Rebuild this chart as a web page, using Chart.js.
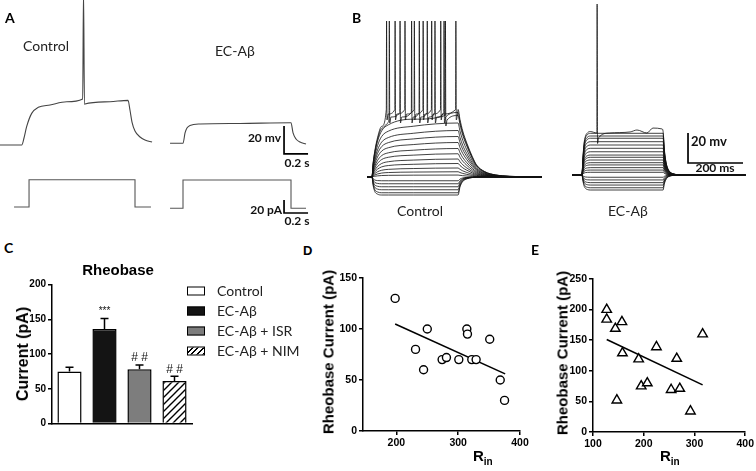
<!DOCTYPE html>
<html lang="en">
<head>
<meta charset="utf-8">
<title>Rheobase</title>
<script src="https://cdn.jsdelivr.net/npm/chart.js"></script>
<style>
  body { margin: 0; background: #fff; }
  #fig { position: relative; width: 756px; height: 471px; overflow: hidden; font-family: Lato, 'Open Sans', sans-serif; color: #222; }
  #fig canvas { position: absolute; }
  .t { position: absolute; white-space: nowrap; line-height: 1; transform: translateY(-50%); }
  .c { transform: translate(-50%, -50%); }
  .r { transform: translate(-100%, -50%); }
  .lab { font-weight: bold; font-size: 14px; color: #000; }
  .big { font-size: 14px; }
  .bar { font-weight: bold; font-size: 12px; color: #111; }
  .v { font: bold 15px 'Liberation Sans', Arial, sans-serif; color: #000; transform: translate(-50%, -50%) rotate(-90deg); }
  .rin { position: absolute; font: bold 15px 'Liberation Sans', Arial, sans-serif; line-height: 1; color: #000; }
  .rin sub { font-size: 10px; vertical-align: baseline; position: relative; top: 4px; }
  .sw { position: absolute; box-sizing: border-box; width: 18px; height: 9px; border: 1.5px solid #000; transform: translateY(-50%); }
</style>
</head>
<body>
<div id="fig">
  <canvas id="chartA" width="330" height="230" style="left:0;top:0"></canvas>
  <canvas id="chartB1" width="200" height="230" style="left:360px;top:0"></canvas>
  <canvas id="chartB2" width="196" height="230" style="left:560px;top:0"></canvas>
  <canvas id="chartC" width="200" height="180" style="left:0;top:260px"></canvas>
  <canvas id="chartD" width="240" height="200" style="left:300px;top:260px"></canvas>
  <canvas id="chartE" width="226" height="200" style="left:530px;top:260px"></canvas>

  <div class="t lab" style="left:5px;top:18px">A</div>
  <div class="t lab" style="left:352px;top:18px">B</div>
  <div class="t lab" style="left:4px;top:248px">C</div>
  <div class="t lab" style="left:303px;top:250px;font-family:'Liberation Sans';font-size:13px">D</div>
  <div class="t lab" style="left:531px;top:250px">E</div>

  <div class="t big" style="left:23px;top:46px">Control</div>
  <div class="t big" style="left:215px;top:51px">EC-Aβ</div>
  <div class="t bar r" style="left:281px;top:138px">20 mv</div>
  <div class="t bar c" style="left:297px;top:163px">0.2 s</div>
  <div class="t bar r" style="left:282px;top:210px">20 pA</div>
  <div class="t bar c" style="left:297px;top:221px">0.2 s</div>

  <div class="t bar" style="left:691px;top:141px;font-size:13px">20 mv</div>
  <div class="t bar c" style="left:715px;top:168px">200 ms</div>
  <div class="t big" style="left:397px;top:211px">Control</div>
  <div class="t big" style="left:608px;top:211px">EC-Aβ</div>

  <div class="t c" style="left:118px;top:269px;font:bold 15px 'Liberation Sans';color:#000">Rheobase</div>
  <div class="t v" style="left:23px;top:354px;font-size:16px">Current (pA)</div>
  <div id="legendC"></div>

  <div class="t v" style="left:328px;top:352px">Rheobase Current (pA)</div>
  <div class="rin" style="left:473px;top:448px">R<sub>in</sub></div>
  <div class="t v" style="left:562px;top:353px">Rheobase Current (pA)</div>
  <div class="rin" style="left:660px;top:448px">R<sub>in</sub></div>
</div>

<script>
// ---- A: rheobase step, time (s) and potential above rest (mV) / injected current (pA)
const aCtrlT = [0, 0.181, 0.2, 0.222, 0.264, 0.319, 0.417, 0.556, 0.689, 0.696, 0.704, 0.708, 0.917, 1.067, 1.083, 1.1, 1.125, 1.167, 1.208, 1.267];
const aCtrlV = [0, 0, 5, 13.1, 22.6, 26.9, 28.6, 30.9, 32.9, 110, 29, 29.3, 30.9, 31.9, 25, 16.4, 10, 5.7, 3.6, 2.1];
const aEcT = [1.417, 1.525, 1.542, 1.558, 1.583, 1.667, 2.0, 2.425, 2.442, 2.467, 2.5, 2.55];
const aEcV = [1.2, 1.2, 8.6, 12.1, 14, 15, 15.4, 15.9, 8.6, 4.3, 2.1, 0.7];
const aCtrlIT = [0.117, 0.242, 0.242, 1.125, 1.125, 1.258];
const aCtrlI = [0, 0, 42, 42, 0, 0];
const aEcIT = [1.417, 1.525, 1.525, 2.425, 2.425, 2.55];
const aEcI = [-2, -2, 41.5, 41.5, -2, -2];

// ---- B: current step families, time (ms from step onset), mV above rest
const bCtrlTime = [-18, 0, 4, 10, 20, 35, 60, 150, 313, 320, 330, 345, 365, 380, 410, 450, 500, 618];
const bDepShape = [0, 0, 0.2, 0.38, 0.58, 0.75, 0.85, 0.94, 1, 0.85, 0.68, 0.5, 0.3, 0.18, 0.08, 0.03, 0.01, 0];
const bHypShape = [0, 0, 0.45, 0.8, 0.95, 1, 1, 1, 1, 0.55, 0.25, 0.1, 0.03, 0.01, 0, 0, 0, 0];
const bCtrlLevels = [45, 43, 41, 36, 31, 27, 23, 19, 15.5, 12, 9, 6, 3.5, 1.3, -2.5, -4.5, -6.5, -8.5, -10.5, -12];
const bCtrlSpikes = [[53, 84, 120, 154, 186, 217, 250, 305], [63, 102, 144, 172, 201, 229, 262], [267]];
const bEcTime = [-36, 0, 3, 7, 12, 20, 30, 295, 299, 304, 310, 320, 335, 360, 594];
const bEcShape = [0, 0, 0.35, 0.7, 0.88, 0.97, 1, 1, 0.62, 0.35, 0.18, 0.07, 0.02, 0, 0];
const bEcLevels = [29, 27.8, 26, 24.5, 22.2, 20, 17.8, 15.5, 13.3, 11.8, 10, 8.2, 6.7, 4.9, 3.3, 1.8, -1.5, -3.3, -5.1, -6.7, -8.5, -10];
const bEcSpike = [55];
const bEcTopT = [100, 175, 200, 236, 258, 291];
const bEcTopV = [28, 28.7, 30, 28, 31.3, 30.7];

// ---- C: rheobase current
const cLabels = ['Control', 'EC-Aβ', 'EC-Aβ + ISR', 'EC-Aβ + NIM'];
const cMean = [75, 136, 78, 61];
const cSem = [6, 15, 6, 7];
const cSig = ['', '***', '# #', '# #'];
const cTicks = [0, 50, 100, 150, 200];

// ---- D, E: rheobase vs input resistance
const dRin = [198, 231, 244, 250, 274, 281, 301, 314, 315, 322, 329, 351, 368, 375];
const dCur = [130, 80, 60, 100, 70, 72, 70, 100, 95, 70, 70, 90, 50, 30];
const dFitX = [198, 376];
const dFitY = [105, 56];
const dTicksX = [200, 300, 400];
const dTicksY = [0, 50, 100, 150];
const eRin = [127, 127, 144, 157, 158, 147, 190, 195, 207, 225, 254, 265, 271, 292, 316];
const eCur = [200, 184, 169, 180, 129, 52, 119, 75, 80, 139, 69, 120, 71, 34, 160];
const eFitX = [127, 316];
const eFitY = [151, 77];
const eTicksX = [100, 200, 300, 400];
const eTicksY = [0, 50, 100, 150, 200, 250];

// scale bars (anchor corner + lengths)
const aBar = {t: 2.367, v: -6.4, i: -9.2, dt: 0.2, dv: 20, di: 20};
const bBar = {t: 385.5, v: 8, dt: 200, dv: 20};

Chart.defaults.font.family = "'Liberation Sans', Arial, sans-serif";
Chart.defaults.color = '#000';
Chart.defaults.animation = false;
Chart.defaults.plugins.legend.display = false;
Chart.defaults.plugins.tooltip.enabled = false;

function xy(xs, ys) { return xs.map((x, i) => ({x: x, y: ys[i]})); }
function fixWidth(w) { return axis => { axis.width = w; }; }
function fixHeight(h) { return axis => { axis.height = h; }; }
function setTicks(list) { return axis => { axis.ticks = list.map(v => ({value: v})); }; }

function trace(times, shape, level, extra) {
  let pts = times.map((t, i) => ({x: t, y: level * shape[i]}));
  if (extra) {
    const a = Math.min(...extra.map(p => p.x)), b = Math.max(...extra.map(p => p.x));
    pts = pts.filter(p => p.x < a || p.x > b).concat(extra).sort((p, q) => p.x - q.x);
  }
  return pts;
}
function spikePoints(times, level, peak) {
  const out = [];
  times.forEach(t => {
    out.push({x: t - 1, y: level}, {x: t, y: peak}, {x: t + 1.5, y: level - 7}, {x: t + 6, y: level - 3});
  });
  return out;
}
function lineSet(data, color, width, extra) {
  return Object.assign({data: data, borderColor: color, borderWidth: width, pointRadius: 0, fill: false, tension: 0}, extra || {});
}
function barSet(b, kV, kI) {
  const sets = [lineSet([{x: b.t, y: b[kV] + b['d' + kV]}, {x: b.t, y: b[kV]}, {x: b.t + b.dt, y: b[kV]}], '#000', 1.7)];
  if (kI) sets.push(lineSet([{x: b.t, y: b[kI] + b['d' + kI]}, {x: b.t, y: b[kI]}, {x: b.t + b.dt, y: b[kI]}], '#000', 1.7, {yAxisID: 'y2'}));
  return sets;
}

// ---- A
new Chart('chartA', {
  type: 'line',
  data: {datasets: [
    lineSet(xy(aCtrlT, aCtrlV), '#444', 1.1, {cubicInterpolationMode: 'monotone'}),
    lineSet(xy(aEcT, aEcV), '#444', 1.1, {cubicInterpolationMode: 'monotone'}),
    lineSet(xy(aCtrlIT, aCtrlI), '#555', 1.1, {yAxisID: 'y2'}),
    lineSet(xy(aEcIT, aEcI), '#555', 1.1, {yAxisID: 'y2'})
  ].concat(barSet(aBar, 'v', 'i'))},
  options: {
    responsive: false,
    scales: {
      x: {type: 'linear', display: false, min: 0, max: 330 / 120},
      y: {display: false, min: -85 / 1.4, max: 145 / 1.4},
      y2: {display: false, min: -23 / 0.65, max: 207 / 0.65}
    }
  }
});

// ---- B
const bCtrlSets = bCtrlLevels.map((lv, i) => {
  const extra = bCtrlSpikes[i] ? spikePoints(bCtrlSpikes[i], lv, 104) : null;
  return lineSet(trace(bCtrlTime, lv > 0 ? bDepShape : bHypShape, lv, extra), '#111', 0.8, {cubicInterpolationMode: 'monotone'});
});
const ecTopExtra = spikePoints(bEcSpike, 28, 114).concat(xy(bEcTopT, bEcTopV));
const bEcSets = bEcLevels.map((lv, i) =>
  lineSet(trace(bEcTime, bEcShape, lv, i === 0 ? ecTopExtra : null), '#111', 0.8, {cubicInterpolationMode: 'monotone'}));

new Chart('chartB1', {
  type: 'line',
  data: {datasets: bCtrlSets},
  options: {responsive: false, scales: {
    x: {type: 'linear', display: false, min: -12 / 0.275, max: 188 / 0.275},
    y: {display: false, min: -53 / 1.5, max: 177 / 1.5}
  }}
});
new Chart('chartB2', {
  type: 'line',
  data: {datasets: bEcSets.concat(barSet(bBar, 'v'))},
  options: {responsive: false, scales: {
    x: {type: 'linear', display: false, min: -22 / 0.275, max: 174 / 0.275},
    y: {display: false, min: -55 / 1.5, max: 175 / 1.5}
  }}
});

// ---- C
function makeHatch(ctx) {
  const c = document.createElement('canvas');
  c.width = 7; c.height = 7;
  const g = c.getContext('2d');
  g.fillStyle = '#fff'; g.fillRect(0, 0, 7, 7);
  g.strokeStyle = '#000'; g.lineWidth = 1.4;
  g.beginPath();
  g.moveTo(-1, 8); g.lineTo(8, -1);
  g.moveTo(-4, 4); g.lineTo(4, -4);
  g.moveTo(3, 11); g.lineTo(11, 3);
  g.stroke();
  return ctx.createPattern(c, 'repeat');
}
const cCanvas = document.getElementById('chartC');
const hatch = makeHatch(cCanvas.getContext('2d'));
const cFills = ['#fff', '#141414', '#7d7d7d', hatch];

const errorBars = {
  id: 'errorBars',
  afterDatasetsDraw(chart) {
    const ctx = chart.ctx, y = chart.scales.y;
    ctx.save();
    ctx.strokeStyle = '#000';
    ctx.fillStyle = '#111';
    ctx.lineWidth = 1.5;
    chart.getDatasetMeta(0).data.forEach((bar, i) => {
      const top = y.getPixelForValue(cMean[i] + cSem[i]);
      ctx.beginPath();
      ctx.moveTo(bar.x, bar.y); ctx.lineTo(bar.x, top);
      ctx.moveTo(bar.x - 4, top); ctx.lineTo(bar.x + 4, top);
      ctx.stroke();
      if (cSig[i]) {
        ctx.font = (cSig[i] === '***' ? '10px' : '12px') + " 'Liberation Sans'";
        ctx.textAlign = 'center';
        ctx.textBaseline = 'middle';
        ctx.fillText(cSig[i], bar.x, top - 7);
      }
    });
    ctx.restore();
  }
};

const axisLine = {color: '#000', width: 1.5};
const tickMarks = {drawOnChartArea: false, color: '#000', lineWidth: 1.5, tickLength: 4};

new Chart(cCanvas, {
  type: 'bar',
  data: {labels: cLabels, datasets: [{
    data: cMean, backgroundColor: cFills, borderColor: '#000', borderWidth: 1.5,
    barPercentage: 0.69, categoryPercentage: 1
  }]},
  options: {
    responsive: false,
    layout: {padding: {top: 24.5, right: 8, left: 0, bottom: 0}},
    scales: {
      x: {grid: {display: false}, ticks: {display: false}, border: axisLine, afterFit: fixHeight(16.5)},
      y: {min: 0, max: 200, afterBuildTicks: setTicks(cTicks), afterFit: fixWidth(52),
          border: axisLine, grid: tickMarks,
          ticks: {font: {size: 10, weight: 'bold'}, color: '#000', padding: 2}}
    }
  },
  plugins: [errorBars]
});

const legend = document.getElementById('legendC');
cLabels.forEach((name, i) => {
  const y = 291 + 20 * i;
  const sw = document.createElement('div');
  sw.className = 'sw';
  sw.style.left = '187px';
  sw.style.top = y + 'px';
  sw.style.background = i === 3 ? 'repeating-linear-gradient(135deg, #fff 0 2.5px, #000 2.5px 4px)' : cFills[i];
  legend.appendChild(sw);
  const tx = document.createElement('div');
  tx.className = 't big';
  tx.style.left = '217px';
  tx.style.top = y + 'px';
  tx.textContent = name;
  legend.appendChild(tx);
});

// ---- D, E
function scatter(id, xs, ys, fx, fy, style, radius, xr, yr, xt, yt, pad, yw, xh) {
  new Chart(id, {
    type: 'scatter',
    data: {datasets: [
      {data: xy(xs, ys), pointStyle: style, pointRadius: radius, pointBorderWidth: 1.4,
       pointBackgroundColor: '#fff', pointBorderColor: '#000', order: 1},
      {data: xy(fx, fy), showLine: true, borderColor: '#000', borderWidth: 1.6, pointRadius: 0, order: 2}
    ]},
    options: {
      responsive: false,
      layout: {padding: pad},
      scales: {
        x: {type: 'linear', min: xr[0], max: xr[1], afterBuildTicks: setTicks(xt), afterFit: fixHeight(xh),
            border: axisLine, grid: tickMarks,
            ticks: {font: {size: 10.5, weight: 'bold'}, color: '#000', padding: 2}},
        y: {min: yr[0], max: yr[1], afterBuildTicks: setTicks(yt), afterFit: fixWidth(yw),
            border: axisLine, grid: tickMarks,
            ticks: {font: {size: 10.5, weight: 'bold'}, color: '#000', padding: 2}}
      }
    }
  });
}
scatter('chartD', dRin, dCur, dFitX, dFitY, 'circle', 4, [146, 400], [0, 150], dTicksX, dTicksY,
  {top: 18, right: 20, left: 0, bottom: 0}, 63, 29);
scatter('chartE', eRin, eCur, eFitX, eFitY, 'triangle', 5.5, [100, 400], [0, 250], eTicksX, eTicksY,
  {top: 19, right: 9, left: 0, bottom: 0}, 63, 28);
</script>
</body>
</html>
